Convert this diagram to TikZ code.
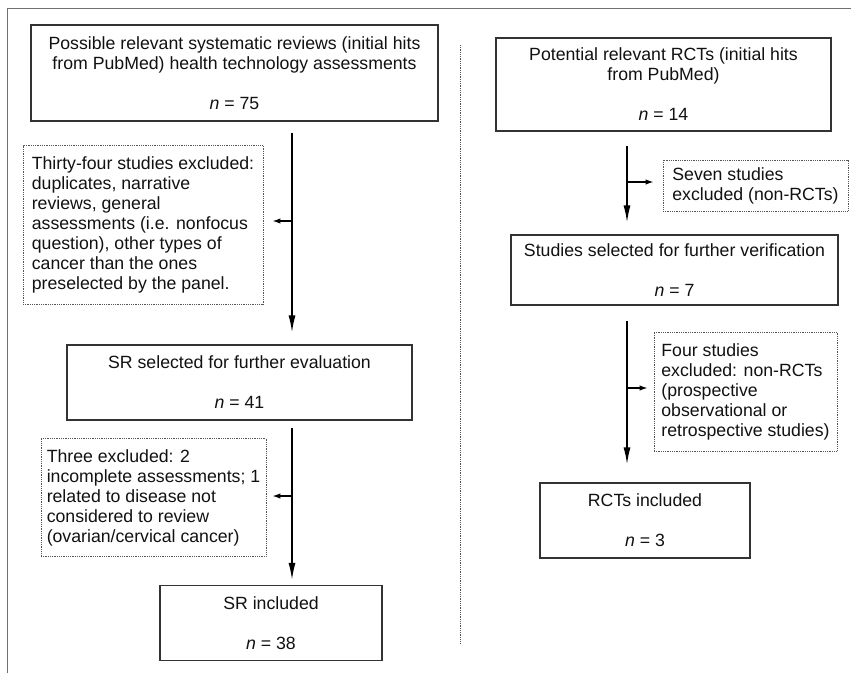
\documentclass[tikz,border=0pt]{standalone}
\usepackage{fontspec}
\setmainfont{Liberation Sans}
\usetikzlibrary{arrows.meta}
\definecolor{boxgray}{HTML}{333333}
\definecolor{dotgray}{HTML}{555555}
\definecolor{framegray}{HTML}{707070}
\definecolor{txt}{HTML}{111111}
\newcommand\mainfs{\fontsize{17.7}{20}\selectfont}
\begin{document}
\begin{tikzpicture}[x=1pt,y=-1pt,
  solidbox/.style={draw=boxgray,line width=1.2pt,inner sep=0pt,align=center,font=\mainfs,text=txt},
  dotbox/.style={draw=dotgray,dash pattern=on 0.9pt off 0.9pt,line width=0.9pt,inner sep=0pt,align=left,font=\mainfs,text=txt},
  mainarrow/.style={draw=black,line width=1.5pt,-{Latex[length=17pt,width=7pt]}},
  sidearrow/.style={draw=black,line width=1.3pt,-{Latex[length=8pt,width=5.5pt]}}]
\useasboundingbox (0,0) rectangle (851,673);
% outer frame
\draw[framegray,line width=1pt] (7,673) -- (7,8) -- (851,8);
% divider
\draw[dotgray,dash pattern=on 0.9pt off 0.9pt,line width=1pt] (460,45) -- (460,643);

% left column
\node[solidbox,minimum width=407pt,minimum height=96pt] (boxA) at (234.5,73)
  {Possible relevant systematic reviews (initial hits\\from PubMed) health technology assessments\\[20pt]\textit{n} = 75};
\node[dotbox,minimum width=240pt,minimum height=159pt] (exc1) at (143,225)
  {Thirty-four studies excluded:\\duplicates, narrative\\reviews, general\\assessments (i.e. nonfocus\\question), other types of\\cancer than the ones\\preselected by the panel.};
\node[solidbox,minimum width=345pt,minimum height=75pt] (boxB) at (239.5,382.5)
  {SR selected for further evaluation\\[20pt]\textit{n} = 41};
\node[dotbox,minimum width=225pt,minimum height=118pt] (exc2) at (153.5,497.5)
  {Three excluded: 2\\incomplete assessments; 1\\related to disease not\\considered to review\\(ovarian/cervical cancer)};
\node[solidbox,minimum width=222pt,minimum height=75pt] (boxC) at (271,623)
  {SR included\\[20pt]\textit{n} = 38};

% right column
\node[solidbox,minimum width=335pt,minimum height=93pt] (boxD) at (663.5,84.5)
  {Potential relevant RCTs (initial hits\\from PubMed)\\[20pt]\textit{n} = 14};
\node[dotbox,minimum width=185pt,minimum height=51pt] (exc3) at (755.5,185.5)
  {Seven studies\\excluded (non-RCTs)};
\node[solidbox,minimum width=327pt,minimum height=70pt] (boxE) at (674.5,270)
  {Studies selected for further verification\\[20pt]\textit{n} = 7};
\node[dotbox,minimum width=183pt,minimum height=119pt] (exc4) at (745.5,391.5)
  {Four studies\\excluded: non-RCTs\\(prospective\\observational or\\retrospective studies)};
\node[solidbox,minimum width=210pt,minimum height=75pt] (boxF) at (645,520.5)
  {RCTs included\\[20pt]\textit{n} = 3};

% connector lines
\coordinate (cl) at (292,0);
\coordinate (cr) at (627,0);
\draw[mainarrow,shorten <=11pt,shorten >=12pt] (boxA.south -| cl) -- (boxB.north -| cl);
\draw[mainarrow,shorten <=7pt,shorten >=5pt] (boxB.south -| cl) -- (boxC.north -| cl);
\draw[mainarrow,shorten <=14pt,shorten >=12pt] (boxD.south -| cr) -- (boxE.north -| cr);
\draw[mainarrow,shorten <=15pt,shorten >=18pt] (boxE.south -| cr) -- (boxF.north -| cr);

\coordinate (s1) at (292,221);
\coordinate (s2) at (292,496);
\coordinate (s3) at (627,182);
\coordinate (s4) at (627,388);
\draw[sidearrow,shorten >=9pt] (s1) -- (s1 -| exc1.east);
\draw[sidearrow,shorten >=6pt] (s2) -- (s2 -| exc2.east);
\draw[sidearrow,shorten >=9pt] (s3) -- (s3 -| exc3.west);
\draw[sidearrow,shorten >=6pt] (s4) -- (s4 -| exc4.west);
\end{tikzpicture}
\end{document}
